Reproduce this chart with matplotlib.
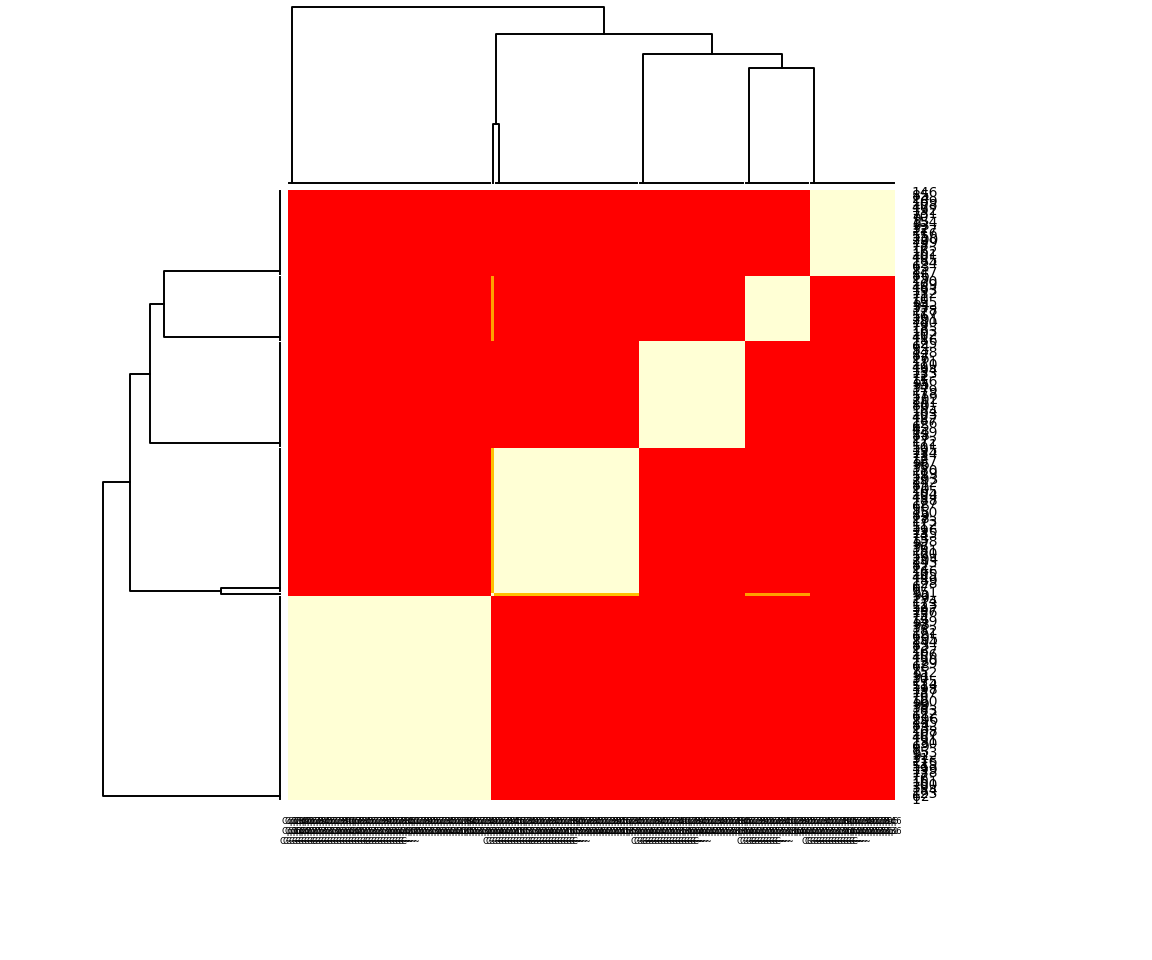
import numpy as np
import matplotlib.pyplot as plt
from matplotlib.colors import ListedColormap, BoundaryNorm

# cluster blocks in leaf order (left->right on columns, bottom->top on rows)
clusters = ['A', 's', 'B', 'C', 'D', 'E']
cluster_sizes = [69, 1, 49, 36, 22, 29]

# block-level consensus between clusters (same order as above)
consensus = [
    [1.00, 0.00, 0.00, 0.00, 0.00, 0.00],
    [0.00, 1.00, 0.55, 0.00, 0.45, 0.00],
    [0.00, 0.55, 1.00, 0.00, 0.00, 0.00],
    [0.00, 0.00, 0.00, 1.00, 0.00, 0.00],
    [0.00, 0.45, 0.00, 0.00, 1.00, 0.00],
    [0.00, 0.00, 0.00, 0.00, 0.00, 1.00],
]

# dendrogram merges between clusters: (left, right, new node, height)
merges = [
    ('D', 'E', 'DE', 0.653),
    ('C', 'DE', 'CDE', 0.733),
    ('s', 'B', 'sB', 0.335),
    ('sB', 'CDE', 'sBCDE', 0.847),
    ('A', 'sBCDE', 'root', 1.0),
]

# R heat.colors(12)
heat12 = ['#FF0000', '#FF2000', '#FF4000', '#FF6000', '#FF8000', '#FF9F00',
          '#FFBF00', '#FFDF00', '#FFFF00', '#FFFF2A', '#FFFF80', '#FFFFD5']

N = sum(cluster_sizes)
member = np.repeat(np.arange(len(clusters)), cluster_sizes)
M = np.array(consensus)[member][:, member]

# sample ids used as labels
sample_ids = [(k * 61) % N + 1 for k in range(N)]
row_labels = [str(i) for i in sample_ids]
col_labels = []
starts = np.cumsum([0] + cluster_sizes[:-1])
for k, sid in enumerate(sample_ids):
    c = member[k]
    lab = 'Cq%d\nCp%d' % (sid % 10, sid % 7)
    if k - starts[c] < 0.6 * cluster_sizes[c]:
        lab += '\nC~~'
    col_labels.append(lab)

fig = plt.figure(figsize=(11.52, 9.6), dpi=100)
W, H = 1152.0, 960.0

ax_hm = fig.add_axes([288 / W, 1 - 800 / H, 607 / W, 610 / H])
ax_col = fig.add_axes([288 / W, 1 - 183 / H, 607 / W, 176 / H])
ax_row = fig.add_axes([103 / W, 1 - 800 / H, 177 / W, 610 / H])

cmap = ListedColormap(heat12)
norm = BoundaryNorm(np.linspace(0, 1, 13), 12)
ax_hm.imshow(M, cmap=cmap, norm=norm, origin='lower', aspect='auto',
             interpolation='nearest', extent=(0, N, 0, N))
ax_hm.set_xticks(np.arange(N) + 0.5)
ax_hm.set_xticklabels(col_labels, fontsize=6, linespacing=1.15)
ax_hm.set_yticks(np.arange(N) + 0.5)
ax_hm.set_yticklabels(row_labels, fontsize=10)
ax_hm.yaxis.tick_right()
ax_hm.tick_params(length=0)
ax_hm.tick_params(axis='x', pad=12)
ax_hm.tick_params(axis='y', pad=12)
for sp in ax_hm.spines.values():
    sp.set_visible(False)

# node positions: chain midpoint inside each cluster, midpoint of children above
pos, hgt = {}, {}
for c, s0, n in zip(clusters, starts, cluster_sizes):
    p = np.arange(s0, s0 + n) + 0.5
    m = p[-1]
    for q in p[-2::-1]:
        m = (q + m) / 2
    pos[c] = m
    hgt[c] = 0.0
for l, r, node, h in merges:
    pos[node] = (pos[l] + pos[r]) / 2
    hgt[node] = h


def draw_dendro(ax, horizontal):
    segs = []
    for c, s0, n in zip(clusters, starts, cluster_sizes):
        if n > 1:
            segs.append(([s0 + 0.5, s0 + n - 0.5], [0, 0]))
    for l, r, node, h in merges:
        segs.append(([pos[l], pos[l], pos[r], pos[r]], [hgt[l], h, h, hgt[r]]))
    for xs, ys in segs:
        if horizontal:
            ax.plot(xs, ys, color='black', lw=1.4, clip_on=False)
        else:
            ax.plot(ys, xs, color='black', lw=1.4, clip_on=False)
    ax.axis('off')


draw_dendro(ax_col, True)
ax_col.set_xlim(0, N)
ax_col.set_ylim(0, 1)

draw_dendro(ax_row, False)
ax_row.set_ylim(0, N)
ax_row.set_xlim(1, 0)

fig.savefig('out.png', dpi=100)
